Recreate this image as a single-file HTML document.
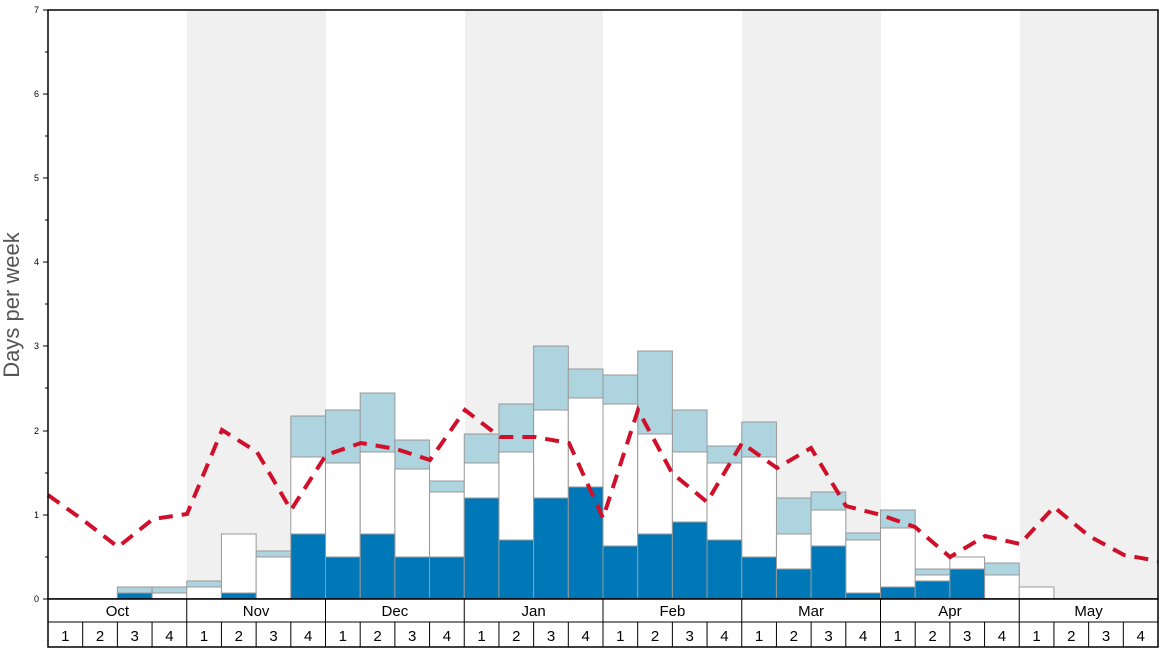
<!DOCTYPE html>
<html><head><meta charset="utf-8"><style>body{margin:0;background:#fff}svg{display:block;font-family:"Liberation Sans","DejaVu Sans",sans-serif}</style></head><body>
<svg width="1168" height="648" xmlns="http://www.w3.org/2000/svg">
<rect width="1168" height="648" fill="#fff"/>
<g fill="#f0f0f0">
<rect x="187" y="10" width="139" height="589"/><rect x="465" y="10" width="138" height="589"/><rect x="742" y="10" width="139" height="589"/><rect x="1020" y="10" width="138" height="589"/>
</g>
<g stroke="#999" stroke-width="1">
<g fill="#aed4e0">
<rect x="117.38" y="587" width="34.69" height="6"/>
<rect x="152.06" y="587" width="34.69" height="6"/>
<rect x="186.75" y="581" width="34.69" height="6"/>
<rect x="256.13" y="551" width="34.69" height="6"/>
<rect x="290.81" y="416" width="34.69" height="41"/>
<rect x="325.5" y="410" width="34.69" height="53"/>
<rect x="360.19" y="393" width="34.69" height="59"/>
<rect x="394.88" y="440" width="34.69" height="29"/>
<rect x="429.56" y="481" width="34.69" height="11"/>
<rect x="464.25" y="434" width="34.69" height="29"/>
<rect x="498.94" y="404" width="34.69" height="48"/>
<rect x="533.63" y="346" width="34.69" height="64"/>
<rect x="568.31" y="369" width="34.69" height="29"/>
<rect x="603" y="375" width="34.69" height="29"/>
<rect x="637.69" y="351" width="34.69" height="83"/>
<rect x="672.38" y="410" width="34.69" height="42"/>
<rect x="707.06" y="446" width="34.69" height="17"/>
<rect x="741.75" y="422" width="34.69" height="35"/>
<rect x="776.44" y="498" width="34.69" height="36"/>
<rect x="811.13" y="492" width="34.69" height="18"/>
<rect x="845.81" y="533" width="34.69" height="7"/>
<rect x="880.5" y="510" width="34.69" height="18"/>
<rect x="915.19" y="569" width="34.69" height="6"/>
<rect x="984.56" y="563" width="34.69" height="12"/>
</g>
<g fill="#fff">
<rect x="152.06" y="593" width="34.69" height="6"/>
<rect x="186.75" y="587" width="34.69" height="12"/>
<rect x="221.44" y="534" width="34.69" height="59"/>
<rect x="256.13" y="557" width="34.69" height="42"/>
<rect x="290.81" y="457" width="34.69" height="77"/>
<rect x="325.5" y="463" width="34.69" height="94"/>
<rect x="360.19" y="452" width="34.69" height="82"/>
<rect x="394.88" y="469" width="34.69" height="88"/>
<rect x="429.56" y="492" width="34.69" height="65"/>
<rect x="464.25" y="463" width="34.69" height="35"/>
<rect x="498.94" y="452" width="34.69" height="88"/>
<rect x="533.63" y="410" width="34.69" height="88"/>
<rect x="568.31" y="398" width="34.69" height="89"/>
<rect x="603" y="404" width="34.69" height="142"/>
<rect x="637.69" y="434" width="34.69" height="100"/>
<rect x="672.38" y="452" width="34.69" height="70"/>
<rect x="707.06" y="463" width="34.69" height="77"/>
<rect x="741.75" y="457" width="34.69" height="100"/>
<rect x="776.44" y="534" width="34.69" height="35"/>
<rect x="811.13" y="510" width="34.69" height="36"/>
<rect x="845.81" y="540" width="34.69" height="53"/>
<rect x="880.5" y="528" width="34.69" height="59"/>
<rect x="915.19" y="575" width="34.69" height="6"/>
<rect x="949.88" y="557" width="34.69" height="12"/>
<rect x="984.56" y="575" width="34.69" height="24"/>
<rect x="1019.25" y="587" width="34.69" height="12"/>
</g>
<g fill="#0077b6">
<rect x="117.38" y="593" width="34.69" height="6"/>
<rect x="221.44" y="593" width="34.69" height="6"/>
<rect x="290.81" y="534" width="34.69" height="65"/>
<rect x="325.5" y="557" width="34.69" height="42"/>
<rect x="360.19" y="534" width="34.69" height="65"/>
<rect x="394.88" y="557" width="34.69" height="42"/>
<rect x="429.56" y="557" width="34.69" height="42"/>
<rect x="464.25" y="498" width="34.69" height="101"/>
<rect x="498.94" y="540" width="34.69" height="59"/>
<rect x="533.63" y="498" width="34.69" height="101"/>
<rect x="568.31" y="487" width="34.69" height="112"/>
<rect x="603" y="546" width="34.69" height="53"/>
<rect x="637.69" y="534" width="34.69" height="65"/>
<rect x="672.38" y="522" width="34.69" height="77"/>
<rect x="707.06" y="540" width="34.69" height="59"/>
<rect x="741.75" y="557" width="34.69" height="42"/>
<rect x="776.44" y="569" width="34.69" height="30"/>
<rect x="811.13" y="546" width="34.69" height="53"/>
<rect x="845.81" y="593" width="34.69" height="6"/>
<rect x="880.5" y="587" width="34.69" height="12"/>
<rect x="915.19" y="581" width="34.69" height="18"/>
<rect x="949.88" y="569" width="34.69" height="30"/>
</g>
</g>
<polyline fill="none" stroke="#d0102a" stroke-width="4" stroke-dasharray="14,9" points="48,495 83,520 118,547 153,519 187,514 222,430 257,452 291,510 326,455 361,443 396,449 430,460 465,410 500,437 535,437 569,443 603,518 638,410 672,473 707,502 742,443 777,468 811,448 846,506 881,515 915,527 950,557 985,536 1020,544 1054,507 1089,536 1124,555 1158,561"/>
<rect x="48" y="10" width="1110" height="589" fill="none" stroke="#000" stroke-width="1.5"/>
<g stroke="#000" stroke-width="1">
<line x1="43" y1="599" x2="48" y2="599"/><line x1="43" y1="515" x2="48" y2="515"/><line x1="43" y1="431" x2="48" y2="431"/><line x1="43" y1="346" x2="48" y2="346"/><line x1="43" y1="262" x2="48" y2="262"/><line x1="43" y1="178" x2="48" y2="178"/><line x1="43" y1="94" x2="48" y2="94"/><line x1="43" y1="10" x2="48" y2="10"/>
<line x1="45" y1="557" x2="48" y2="557"/><line x1="45" y1="473" x2="48" y2="473"/><line x1="45" y1="388" x2="48" y2="388"/><line x1="45" y1="304" x2="48" y2="304"/><line x1="45" y1="220" x2="48" y2="220"/><line x1="45" y1="136" x2="48" y2="136"/><line x1="45" y1="52" x2="48" y2="52"/>
</g>
<g font-size="9" text-anchor="end" fill="#000">
<text x="39" y="602">0</text><text x="39" y="518">1</text><text x="39" y="434">2</text><text x="39" y="349">3</text><text x="39" y="265">4</text><text x="39" y="181">5</text><text x="39" y="97">6</text><text x="39" y="13">7</text>
</g>
<text transform="translate(19,305) rotate(-90)" text-anchor="middle" font-size="22" fill="#555">Days per week</text>
<rect x="48" y="599" width="1110" height="48" fill="#fff" stroke="#000" stroke-width="1.5"/>
<g stroke="#000" stroke-width="1">
<line x1="48" y1="622" x2="1158" y2="622"/>
<line x1="186.75" y1="599" x2="186.75" y2="647"/><line x1="325.5" y1="599" x2="325.5" y2="647"/><line x1="464.25" y1="599" x2="464.25" y2="647"/><line x1="603" y1="599" x2="603" y2="647"/><line x1="741.75" y1="599" x2="741.75" y2="647"/><line x1="880.5" y1="599" x2="880.5" y2="647"/><line x1="1019.25" y1="599" x2="1019.25" y2="647"/>
<line x1="82.69" y1="622" x2="82.69" y2="647"/><line x1="117.38" y1="622" x2="117.38" y2="647"/><line x1="152.06" y1="622" x2="152.06" y2="647"/>
<line x1="221.44" y1="622" x2="221.44" y2="647"/><line x1="256.13" y1="622" x2="256.13" y2="647"/><line x1="290.81" y1="622" x2="290.81" y2="647"/>
<line x1="360.19" y1="622" x2="360.19" y2="647"/><line x1="394.88" y1="622" x2="394.88" y2="647"/><line x1="429.56" y1="622" x2="429.56" y2="647"/>
<line x1="498.94" y1="622" x2="498.94" y2="647"/><line x1="533.63" y1="622" x2="533.63" y2="647"/><line x1="568.31" y1="622" x2="568.31" y2="647"/>
<line x1="637.69" y1="622" x2="637.69" y2="647"/><line x1="672.38" y1="622" x2="672.38" y2="647"/><line x1="707.06" y1="622" x2="707.06" y2="647"/>
<line x1="776.44" y1="622" x2="776.44" y2="647"/><line x1="811.13" y1="622" x2="811.13" y2="647"/><line x1="845.81" y1="622" x2="845.81" y2="647"/>
<line x1="915.19" y1="622" x2="915.19" y2="647"/><line x1="949.88" y1="622" x2="949.88" y2="647"/><line x1="984.56" y1="622" x2="984.56" y2="647"/>
<line x1="1053.94" y1="622" x2="1053.94" y2="647"/><line x1="1088.63" y1="622" x2="1088.63" y2="647"/><line x1="1123.31" y1="622" x2="1123.31" y2="647"/>
</g>
<g font-size="15" text-anchor="middle" fill="#000">
<text x="117.4" y="616">Oct</text><text x="256.1" y="616">Nov</text><text x="394.9" y="616">Dec</text><text x="533.6" y="616">Jan</text><text x="672.4" y="616">Feb</text><text x="811.1" y="616">Mar</text><text x="949.9" y="616">Apr</text><text x="1088.6" y="616">May</text>
<text x="65.3" y="641">1</text><text x="100" y="641">2</text><text x="134.7" y="641">3</text><text x="169.4" y="641">4</text>
<text x="204.1" y="641">1</text><text x="238.8" y="641">2</text><text x="273.5" y="641">3</text><text x="308.2" y="641">4</text>
<text x="342.8" y="641">1</text><text x="377.5" y="641">2</text><text x="412.2" y="641">3</text><text x="446.9" y="641">4</text>
<text x="481.6" y="641">1</text><text x="516.3" y="641">2</text><text x="551" y="641">3</text><text x="585.7" y="641">4</text>
<text x="620.3" y="641">1</text><text x="655" y="641">2</text><text x="689.7" y="641">3</text><text x="724.4" y="641">4</text>
<text x="759.1" y="641">1</text><text x="793.8" y="641">2</text><text x="828.5" y="641">3</text><text x="863.2" y="641">4</text>
<text x="897.8" y="641">1</text><text x="932.5" y="641">2</text><text x="967.2" y="641">3</text><text x="1001.9" y="641">4</text>
<text x="1036.6" y="641">1</text><text x="1071.3" y="641">2</text><text x="1106" y="641">3</text><text x="1140.7" y="641">4</text>
</g>
</svg>
</body></html>
